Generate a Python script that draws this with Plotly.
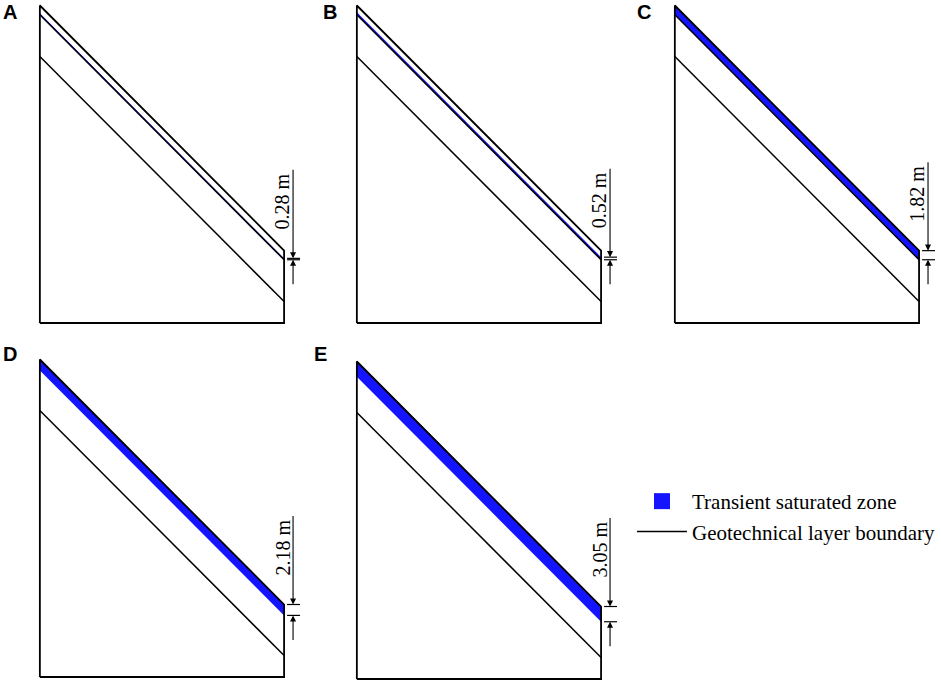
import plotly.graph_objects as go

# Slope geometry (metres) and transient saturated zone thickness per case
panel_labels = ["A", "B", "C", "D", "E"]
zone_thickness = [0.28, 0.52, 1.82, 2.18, 3.05]
slope_width = 49.0
crest_height = 63.5
toe_height = 14.5
layer_depths = [1.85, 10.2]

# Page layout (pixels)
W_PX, H_PX = 941, 683
K = 5.0  # pixels per metre
LEFT_PAD, RIGHT_PAD = 30, 262
TOP_PAD, BOT_PAD = 322, 4
panel_origin = [(40, 323), (358, 323), (677, 323), (40, 677), (358, 679)]
label_pos = [(10, 12), (331, 12), (646, 12), (10, 354), (322, 354)]

BLUE = "#1414ff"
SERIF = "Liberation Serif, Times New Roman, serif"

fig = go.Figure()
annotations = []

for i, (lab, t) in enumerate(zip(panel_labels, zone_thickness)):
    n = i + 1
    sfx = "" if n == 1 else str(n)
    xa, ya = "x" + sfx, "y" + sfx
    ox, oy = panel_origin[i]

    fig.update_layout({
        "xaxis" + sfx: dict(domain=[(ox - LEFT_PAD) / W_PX, (ox + RIGHT_PAD) / W_PX],
                            range=[-LEFT_PAD / K, RIGHT_PAD / K], visible=False, fixedrange=True),
        "yaxis" + sfx: dict(domain=[1 - (oy + BOT_PAD) / H_PX, 1 - (oy - TOP_PAD) / H_PX],
                            range=[-BOT_PAD / K, TOP_PAD / K], visible=False, fixedrange=True),
    })

    W, H, Hr = slope_width, crest_height, toe_height

    # transient saturated zone (perched on first boundary, grows to surface)
    zb = max(layer_depths[0], t)
    zt = zb - t
    fig.add_trace(go.Scatter(x=[0, W, W, 0, 0], y=[H - zt, Hr - zt, Hr - zb, H - zb, H - zt],
                             mode="lines", fill="toself", fillcolor=BLUE,
                             line=dict(color=BLUE, width=0),
                             xaxis=xa, yaxis=ya, showlegend=False, hoverinfo="skip"))

    # geotechnical layer boundaries (hidden once the zone has passed through them)
    for d in layer_depths:
        if t > d:
            continue
        fig.add_trace(go.Scatter(x=[0, W], y=[H - d, Hr - d], mode="lines",
                                 line=dict(color="black", width=1.5),
                                 xaxis=xa, yaxis=ya, showlegend=False, hoverinfo="skip"))

    # slope outline
    fig.add_trace(go.Scatter(x=[0, 0, W, W, 0], y=[0, H, Hr, 0, 0], mode="lines",
                             line=dict(color="black", width=1.8),
                             xaxis=xa, yaxis=ya, showlegend=False, hoverinfo="skip"))

    # dimension ticks
    yt, yb = Hr - zt, Hr - zb
    fig.add_trace(go.Scatter(x=[W + 0.6, W + 3.2, None, W + 0.6, W + 3.2],
                             y=[yt, yt, None, yb, yb], mode="lines",
                             line=dict(color="black", width=1.2),
                             xaxis=xa, yaxis=ya, showlegend=False, hoverinfo="skip"))

    ax_x = W + 1.8
    annotations.append(dict(x=ax_x, y=yt, ax=ax_x, ay=yt + 18, xref=xa, yref=ya,
                            axref=xa, ayref=ya, text="", showarrow=True,
                            arrowhead=2, arrowsize=1.1, arrowwidth=1.1,
                            arrowcolor="black", standoff=0))
    annotations.append(dict(x=ax_x, y=yb, ax=ax_x, ay=yb - 5.2, xref=xa, yref=ya,
                            axref=xa, ayref=ya, text="", showarrow=True,
                            arrowhead=2, arrowsize=1.1, arrowwidth=1.1,
                            arrowcolor="black", standoff=0))
    annotations.append(dict(x=W - 0.4, y=yt + 11.4, xref=xa, yref=ya,
                            text=f"{t:.2f} m", textangle=-90, showarrow=False,
                            font=dict(family=SERIF, size=20, color="black")))

    lx, ly = label_pos[i]
    annotations.append(dict(x=lx / W_PX, y=1 - ly / H_PX, xref="paper", yref="paper",
                            text=f"<b>{lab}</b>", showarrow=False,
                            xanchor="center", yanchor="middle",
                            font=dict(family="Liberation Sans, Arial, sans-serif",
                                      size=20, color="black")))

# legend entries
fig.add_trace(go.Scatter(x=[None], y=[None], mode="markers", name="Transient saturated zone",
                         marker=dict(symbol="square", size=17, color=BLUE),
                         legendgroup="a"))
fig.add_trace(go.Scatter(x=[None], y=[None], mode="lines", name="Geotechnical layer boundary",
                         line=dict(color="black", width=1.6), legendgroup="b"))

fig.update_layout(
    width=W_PX, height=H_PX,
    margin=dict(l=0, r=0, t=0, b=0),
    plot_bgcolor="white", paper_bgcolor="white",
    annotations=annotations,
    showlegend=True,
    legend=dict(x=634 / W_PX, y=1 - 481 / H_PX, xanchor="left", yanchor="top",
                font=dict(family=SERIF, size=21, color="black"),
                bgcolor="rgba(0,0,0,0)", tracegroupgap=0, itemwidth=50),
)

# the page's default body margin would push the figure off the window
fig.write_html("out.html", config={"displayModeBar": False},
               post_script="document.body.style.margin='0px';"
                           "document.body.style.overflow='hidden';")
